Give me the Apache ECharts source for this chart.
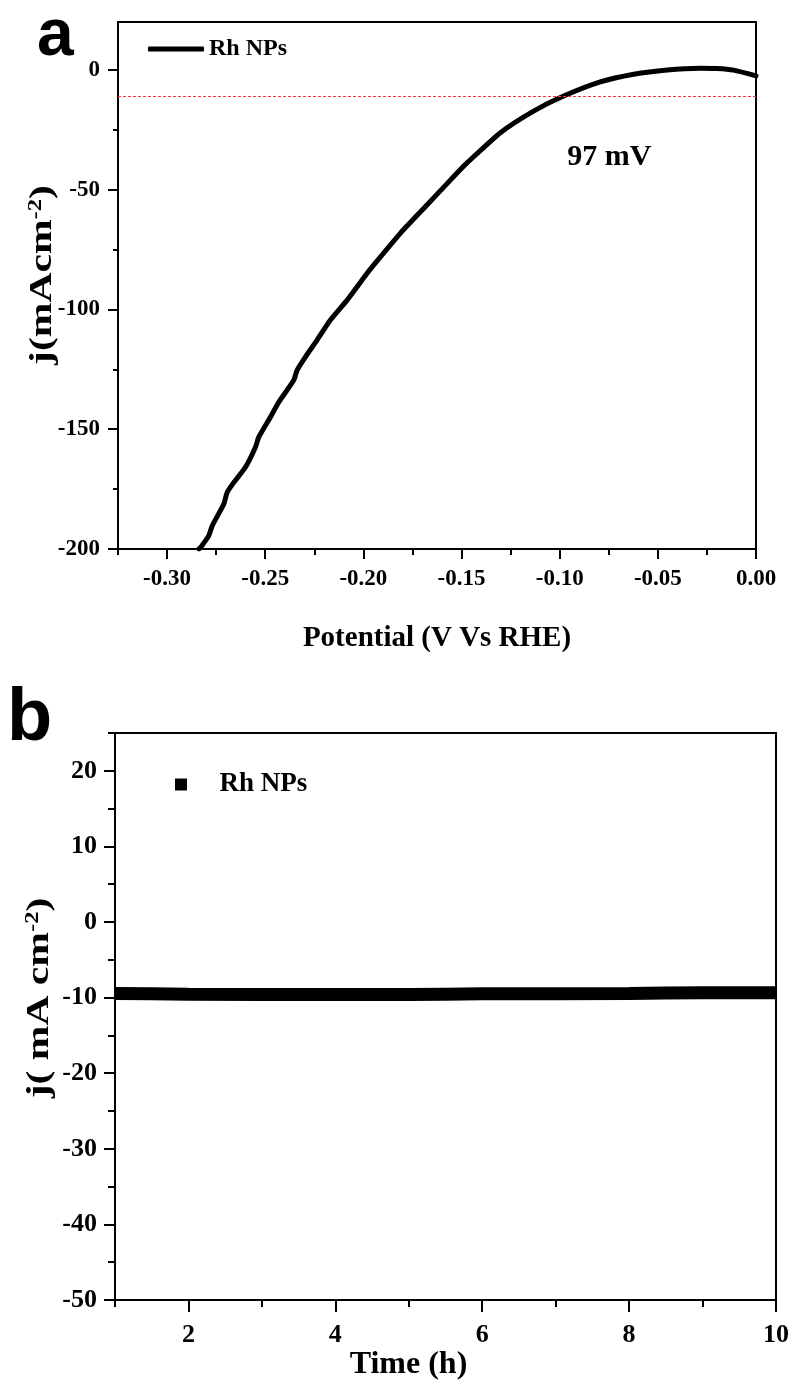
<!DOCTYPE html>
<html>
<head>
<meta charset="utf-8">
<script src="https://cdn.jsdelivr.net/npm/echarts@6/dist/echarts.min.js"></script>
<style>
html,body{margin:0;padding:0;background:#fff;}
#c{width:795px;height:1385px;}
</style>
</head>
<body>
<div id="c"></div>
<script>
// ---- Panel a: LSV polarization curve ----
const potentialA = [-0.2838,-0.2830,-0.2788,-0.2770,-0.2711,-0.2694,-0.2660,-0.2601,-0.2550,-0.2533,-0.2474,-0.2431,-0.2355,-0.2338,-0.2295,-0.2236,-0.2168,-0.2083,-0.1981,-0.1947,-0.1811,-0.1675,-0.1506,-0.1472,-0.1302,-0.1133,-0.0980,-0.0793,-0.0623,-0.0453,-0.0284,-0.0199,-0.0114,0.0];
const currentA   = [-200,-199.4,-194.5,-190.3,-181.2,-176.4,-172.2,-165.9,-157.5,-153.3,-145.0,-138.7,-129.6,-125.4,-119.8,-112.8,-104.4,-96.1,-84.9,-81.4,-68.1,-56.3,-41.6,-38.8,-26.2,-17.2,-10.9,-5.0,-1.8,0.0,0.7,0.6,-0.1,-2.5];
const refLineA = -10.9;
const annotA = {x:-0.0747, y:-36.6, text:'97 mV'};
const xMajorA = [-0.30,-0.25,-0.20,-0.15,-0.10,-0.05,0.00];
const xMinorA = [-0.325,-0.275,-0.225,-0.175,-0.125,-0.075,-0.025];
const yMajorA = [-200,-150,-100,-50,0];
const yMinorA = [-175,-125,-75,-25];

// ---- Panel b: chronoamperometry ----
const timeB    = [1,1.5,2,3,4,5,5.5,6,7,8,8.5,9,10];
const currentB = [-9.45,-9.5,-9.55,-9.6,-9.6,-9.6,-9.55,-9.5,-9.5,-9.45,-9.4,-9.35,-9.35];
const xMajorB = [2,4,6,8,10];
const xMinorB = [1,3,5,7,9];
const yMajorB = [-50,-40,-30,-20,-10,0,10,20];
const yMinorB = [-45,-35,-25,-15,-5,5,15,25];

const SERIF = '"Liberation Serif","Times New Roman",serif';
const SANS = '"Liberation Sans",Arial,sans-serif';
const K = '#000';

function fmtA(v){ return v.toFixed(2); }

function mainAxis(opts){
  return Object.assign({
    type:'value', scale:false,
    axisLine:{show:true,onZero:false,lineStyle:{color:K,width:2}},
    splitLine:{show:false},
    nameMoveOverlap:false
  }, opts);
}

function yTitle(text, x, y, sx){
  return {
    type:'text', x:x, y:y, rotation:Math.PI/2, scaleX:sx, scaleY:1,
    style:{
      text:text, align:'center', verticalAlign:'middle',
      rich:{
        t:{fontFamily:SERIF, fontWeight:'bold', fontSize:32, fill:K},
        s:{fontFamily:SERIF, fontWeight:'bold', fontSize:19, fill:K, verticalAlign:'top', padding:[0,0,13,0]}
      }
    }
  };
}

const chart = echarts.init(document.getElementById('c'), null, {renderer:'canvas'});
const option = {
  backgroundColor:'#fff',
  animation:false,
  textStyle:{fontFamily:SERIF, color:K},
  grid:[
    {left:118, top:22, width:638, height:527, containLabel:false},
    {left:115, top:733, width:661, height:567, containLabel:false}
  ],
  legend:[
    {
      left:148, top:37, orient:'vertical', padding:0,
      itemWidth:56, itemHeight:5, icon:'roundRect',
      textStyle:{fontFamily:SERIF, fontWeight:'bold', fontSize:24, color:K},
      data:[{name:'Rh NPs'}],
      selectedMode:false
    },
    {
      left:175, top:771, orient:'vertical', padding:0,
      itemWidth:67, itemHeight:12, icon:'path://M0,0H10V10H0Z', symbolKeepAspect:true,
      textStyle:{fontFamily:SERIF, fontWeight:'bold', fontSize:27, color:K},
      data:[{name:'Rh NPs '}],
      selectedMode:false
    }
  ],
  xAxis:[
    mainAxis({gridIndex:0, position:'bottom', min:-0.325, max:0,
      name:'Potential (V Vs RHE)', nameLocation:'middle', nameGap:75,
      nameTextStyle:{fontFamily:SERIF, fontWeight:'bold', fontSize:29, color:K},
      axisTick:{show:true, inside:false, length:10, lineStyle:{color:K,width:2}, customValues:xMajorA},
      axisLabel:{show:true, margin:19, fontFamily:SERIF, fontWeight:'bold', fontSize:23, color:K, customValues:xMajorA, formatter:fmtA}
    }),
    mainAxis({gridIndex:0, position:'bottom', min:-0.325, max:0,
      axisLine:{show:false, onZero:false},
      axisTick:{show:true, inside:false, length:6, lineStyle:{color:K,width:2}, customValues:xMinorA},
      axisLabel:{show:false}
    }),
    mainAxis({gridIndex:0, position:'top', min:-0.325, max:0,
      axisTick:{show:false}, axisLabel:{show:false}}),
    mainAxis({gridIndex:1, position:'bottom', min:1, max:10,
      name:'Time (h)', nameLocation:'middle', nameGap:49,
      nameTextStyle:{fontFamily:SERIF, fontWeight:'bold', fontSize:32, color:K, padding:[0,74,0,0]},
      axisTick:{show:true, inside:false, length:12, lineStyle:{color:K,width:2}, customValues:xMajorB},
      axisLabel:{show:true, margin:22, fontFamily:SERIF, fontWeight:'bold', fontSize:26, color:K, customValues:xMajorB}
    }),
    mainAxis({gridIndex:1, position:'bottom', min:1, max:10,
      axisLine:{show:false, onZero:false},
      axisTick:{show:true, inside:false, length:7, lineStyle:{color:K,width:2}, customValues:xMinorB},
      axisLabel:{show:false}
    }),
    mainAxis({gridIndex:1, position:'top', min:1, max:10,
      axisTick:{show:false}, axisLabel:{show:false}})
  ],
  yAxis:[
    mainAxis({gridIndex:0, position:'left', min:-200, max:20,
      axisTick:{show:true, inside:false, length:10, lineStyle:{color:K,width:2}, customValues:yMajorA},
      axisLabel:{show:true, margin:18, fontFamily:SERIF, fontWeight:'bold', fontSize:23, color:K, customValues:yMajorA}
    }),
    mainAxis({gridIndex:0, position:'left', min:-200, max:20,
      axisLine:{show:false, onZero:false},
      axisTick:{show:true, inside:false, length:5, lineStyle:{color:K,width:2}, customValues:yMinorA},
      axisLabel:{show:false}
    }),
    mainAxis({gridIndex:0, position:'right', min:-200, max:20,
      axisTick:{show:false}, axisLabel:{show:false}}),
    mainAxis({gridIndex:1, position:'left', min:-50, max:25,
      axisTick:{show:true, inside:false, length:11, lineStyle:{color:K,width:2}, customValues:yMajorB},
      axisLabel:{show:true, margin:18, fontFamily:SERIF, fontWeight:'bold', fontSize:26, color:K, customValues:yMajorB}
    }),
    mainAxis({gridIndex:1, position:'left', min:-50, max:25,
      axisLine:{show:false, onZero:false},
      axisTick:{show:true, inside:false, length:7, lineStyle:{color:K,width:2}, customValues:yMinorB},
      axisLabel:{show:false}
    }),
    mainAxis({gridIndex:1, position:'right', min:-50, max:25,
      axisTick:{show:false}, axisLabel:{show:false}})
  ],
  series:[
    {
      name:'Rh NPs', type:'line', xAxisIndex:0, yAxisIndex:0,
      data: potentialA.map((v,i)=>[v,currentA[i]]),
      showSymbol:false, symbol:'none', smooth:0.2,
      lineStyle:{color:K, width:5, cap:'round', join:'round'},
      itemStyle:{color:K},
      markLine:{
        silent:true, symbol:'none',
        lineStyle:{color:'#ff3030', width:1, type:[3,2]},
        label:{show:false},
        data:[{yAxis:refLineA}]
      },
      markPoint:{
        symbol:'circle', symbolSize:0,
        label:{show:true, position:'inside', formatter:annotA.text, fontFamily:SERIF, fontWeight:'bold', fontSize:30, color:K},
        data:[{coord:[annotA.x, annotA.y]}]
      }
    },
    {
      name:'Rh NPs ', type:'line', xAxisIndex:3, yAxisIndex:3,
      data: timeB.map((t,i)=>[t,currentB[i]]),
      showSymbol:false, symbol:'rect',
      lineStyle:{color:K, width:13, cap:'butt'},
      itemStyle:{color:K}
    }
  ],
  graphic:[
    {type:'text', left:37, top:4, style:{text:'a', fontFamily:SANS, fontWeight:'bold', fontSize:66, fill:K}},
    {type:'text', left:7, top:683, style:{text:'b', fontFamily:SANS, fontWeight:'bold', fontSize:74, fill:K}},
    yTitle('{t|j(mAcm}{s|-2}{t|)}', 43, 275, 1.3),
    yTitle('{t|j( mA cm}{s|-2}{t|)}', 40, 998, 1.3)
  ]
};
chart.setOption(option);
</script>
</body>
</html>
